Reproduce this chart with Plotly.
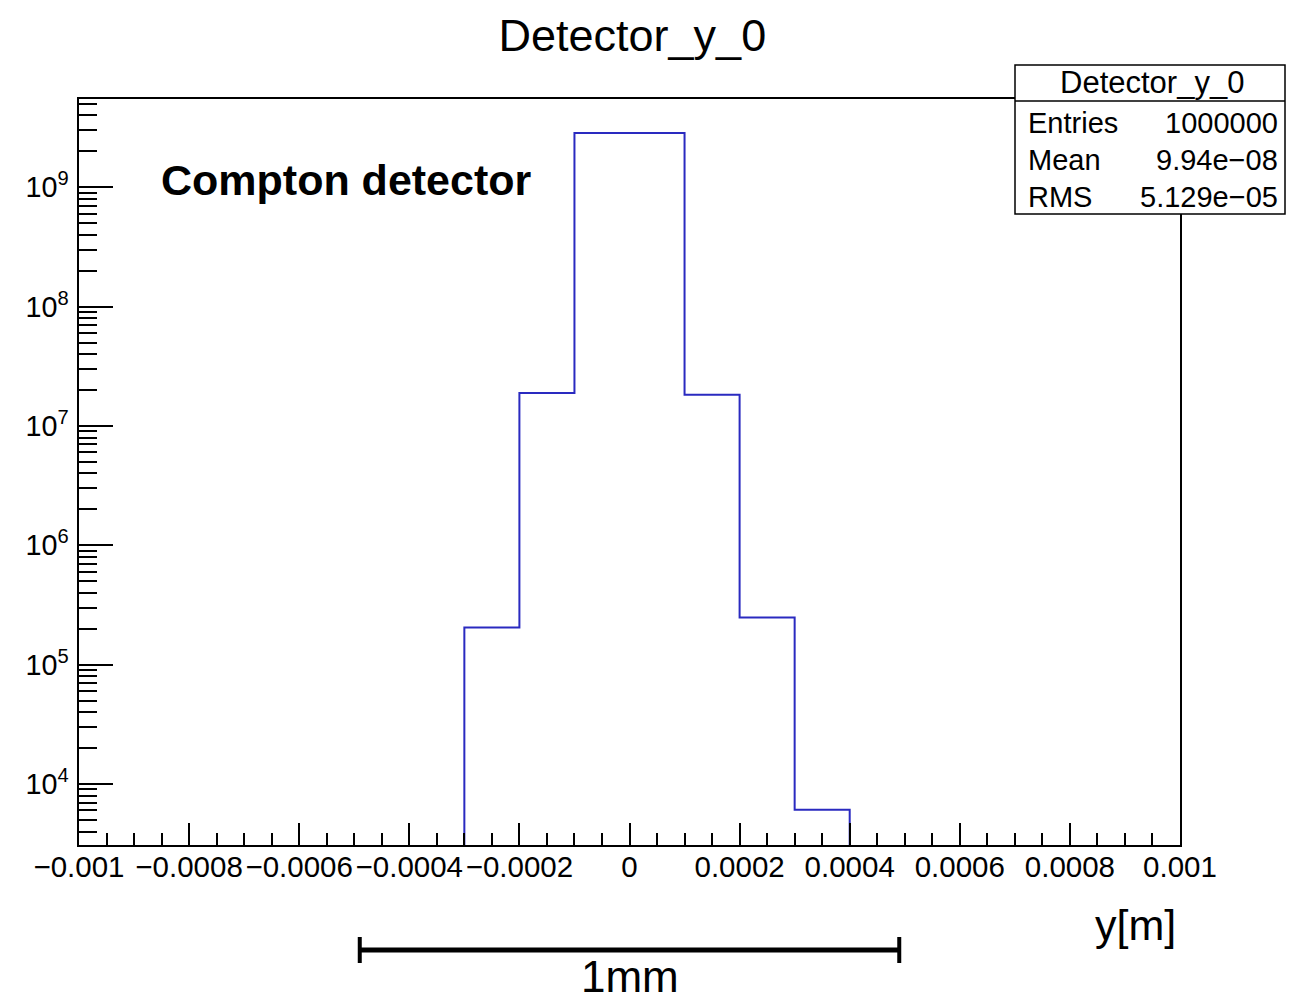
import plotly.graph_objects as go

# Histogram "Detector_y_0" (log y), bin width 1e-4 m
bin_edges = [-0.0004, -0.0003, -0.0002, -0.0001, 0.0, 0.0001, 0.0002, 0.0003, 0.0004, 0.0005]
counts = [0, 2.05e5, 1.89e7, 2.85e9, 2.85e9, 1.83e7, 2.49e5, 6.1e3, 0]

x_tickvals = [-0.001, -0.0008, -0.0006, -0.0004, -0.0002, 0, 0.0002, 0.0004, 0.0006, 0.0008, 0.001]
x_ticktext = ["\u22120.001", "\u22120.0008", "\u22120.0006", "\u22120.0004", "\u22120.0002", "0",
              "0.0002", "0.0004", "0.0006", "0.0008", "0.001"]

stats_names = ["Entries", "Mean", "RMS"]
stats_values = ["1000000", "9.94e\u221208", "5.129e\u221205"]

FONT = "Liberation Sans, Arial, Helvetica, sans-serif"

# empty bins are pushed below the axis so the outline drops to the frame
y_step = [c if c > 0 else 1e-3 for c in counts]
y_step = y_step + [y_step[-1]]

fig = go.Figure()
fig.add_trace(go.Scatter(x=bin_edges, y=y_step, mode='lines', line_shape='hv',
                         line=dict(color='#2a2ac0', width=2), hoverinfo='skip'))

# page body has an 8px margin, so the figure is 8px smaller and margins shifted
fig.update_layout(
    width=1286, height=987,
    margin=dict(l=71, r=114, t=91, b=150),
    paper_bgcolor='white', plot_bgcolor='white',
    showlegend=False,
    font=dict(family=FONT, color='black'),
    title=dict(text="Detector_y_0", x=0.4855, xanchor='center', y=1 - 27 / 987, yanchor='middle',
               font=dict(size=45, family=FONT)),
)

fig.update_xaxes(range=[-0.001, 0.001], tickmode='array', tickvals=x_tickvals, ticktext=x_ticktext,
                 tickangle=0, ticks='inside', ticklen=22, tickwidth=1.5, tickcolor='black',
                 showline=True, linecolor='black', linewidth=1.5, mirror=True,
                 showgrid=False, zeroline=False, tickfont=dict(size=29.5), ticklabelstandoff=-5,
                 minor=dict(dtick=0.00005, tick0=-0.001, ticks='inside', ticklen=12,
                            tickwidth=1.5, tickcolor='black', showgrid=False))

fig.update_yaxes(type='log', range=[3.489, 9.74], dtick=1, exponentformat='power',
                 ticks='inside', ticklen=34, tickwidth=1.5, tickcolor='black',
                 showline=True, linecolor='black', linewidth=1.5, mirror=True,
                 showgrid=False, zeroline=False, tickfont=dict(size=23), ticklabelstandoff=4,
                 minor=dict(dtick='D1', ticks='inside', ticklen=18, tickwidth=1.5,
                            tickcolor='black', showgrid=False))

# stats box
box_x0 = (1015 - 79) / 1101
box_x1 = (1285 - 79) / 1101
fig.add_shape(type='rect', xref='paper', yref='paper', x0=box_x0, x1=box_x1, y0=0.8458, y1=1.0456,
              line=dict(color='black', width=1.5), fillcolor='white', layer='above')
fig.add_shape(type='line', xref='paper', yref='paper', x0=box_x0, x1=box_x1, y0=0.9973, y1=0.9973,
              line=dict(color='black', width=1.5), layer='above')
fig.add_annotation(text="Detector_y_0", xref='paper', yref='paper', x=(1152 - 79) / 1101, y=1.0215,
                   showarrow=False, xanchor='center', yanchor='middle', font=dict(size=31))
row_y = [(845 - yy) / 746 for yy in (123, 160, 197)]
for name, val, yy in zip(stats_names, stats_values, row_y):
    fig.add_annotation(text=name, xref='paper', yref='paper', x=(1026 - 79) / 1101, y=yy,
                       showarrow=False, xanchor='left', yanchor='middle', font=dict(size=29))
    fig.add_annotation(text=val, xref='paper', yref='paper', x=(1280 - 79) / 1101, y=yy,
                       showarrow=False, xanchor='right', yanchor='middle', font=dict(size=29))

# labels
fig.add_annotation(text="<b>Compton detector</b>", xref='paper', yref='paper', x=(159 - 79) / 1101,
                   y=(845 - 180) / 746, showarrow=False, xanchor='left', yanchor='middle',
                   font=dict(size=43))
fig.add_annotation(text="y[m]", xref='paper', yref='paper', x=(1135 - 79) / 1101, y=(845 - 925) / 746,
                   showarrow=False, xanchor='center', yanchor='middle', font=dict(size=43))

# 1mm scale bar
bar_y = (845 - 950) / 746
fig.add_shape(type='line', xref='x', yref='paper', x0=-0.00049, x1=0.00049, y0=bar_y, y1=bar_y,
              line=dict(color='black', width=5))
for xe in (-0.00049, 0.00049):
    fig.add_shape(type='line', xref='x', yref='paper', x0=xe, x1=xe,
                  y0=(845 - 937) / 746, y1=(845 - 963) / 746, line=dict(color='black', width=4))
fig.add_annotation(text="1mm", xref='paper', yref='paper', x=0.5, y=(845 - 950) / 746,
                   showarrow=False, xanchor='center', yanchor='top', font=dict(size=44))

fig.write_html("out.html")
